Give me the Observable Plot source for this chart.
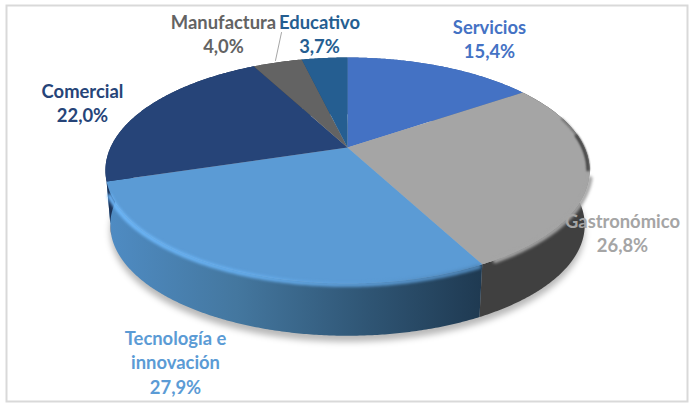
<!DOCTYPE html>
<html>
<head>
<meta charset="utf-8">
<script src="https://cdn.jsdelivr.net/npm/d3@7"></script>
<script src="https://cdn.jsdelivr.net/npm/@observablehq/plot@0.6"></script>
<style>
html,body{margin:0;padding:0;background:#fff}
svg{display:block}
</style>
</head>
<body>
<div id="chart"></div>
<script>
const categories = ["Servicios", "Gastronómico", "Tecnología e innovación", "Comercial", "Manufactura", "Educativo"];
const values = [15.4, 26.8, 27.9, 22.0, 4.0, 3.7];
const labelLines = ["Servicios", "Gastronómico", "Tecnología e\ninnovación", "Comercial", "Manufactura", "Educativo"];
const faceColors = ["#4472c4", "#a5a5a5", "#5b9bd5", "#264478", "#636363", "#255e91"];
const wallFills = ["#3a619f", "#404040", "url(#wallTec)", "#1c3358", "#444", "#1d4a72"];
const labelCentersPx = [[489, 38], [622, 232], [175, 361], [82, 102], [223, 33], [319, 33]];

// Pie geometry: the plot's x and y scales are in units of the pie radius.
const cx = 347, cy = 147, A = 237, B = 108.3, k = 0.2035;
const depth = 55 / B, bottomScale = 0.98;
const W = 692, H = 407;

function rim(t, s = 1, drop = 0) {
  const a = t * Math.PI / 180, u = Math.sin(a), v = -Math.cos(a), w = 1 - k * v;
  return {x: s * u / w, y: s * v / w + drop};
}
function arcPts(t0, t1, s = 1, drop = 0) {
  const n = Math.max(2, Math.ceil(Math.abs(t1 - t0) * 2)), out = [];
  for (let i = 0; i <= n; i++) out.push(rim(t0 + (t1 - t0) * i / n, s, drop));
  return out;
}
const total = d3.sum(values);
const cum = d3.cumsum(values);
const slices = categories.map((c, i) => ({
  c, t0: (i ? cum[i - 1] : 0) / total * 360, t1: cum[i] / total * 360,
  face: faceColors[i], wall: wallFills[i]
}));
const faces = slices.flatMap(d => [{x: 0, y: 0}, ...arcPts(d.t0, d.t1), {x: 0, y: 0}].map(p => ({...p, id: d.c, f: d.face})));
const walls = slices.flatMap(d => [...arcPts(d.t0, d.t1), ...arcPts(d.t1, d.t0, bottomScale, depth)].map(p => ({...p, id: d.c, f: d.wall})));
const shadow = arcPts(0, 360, bottomScale, depth + 6 / B);
const tec = slices[2], gas = slices[1];

const labels = categories.map((c, i) => ({
  text: labelLines[i] + "\n" + values[i].toFixed(1).replace(".", ",") + "%",
  x: (labelCentersPx[i][0] - cx) / A,
  y: (labelCentersPx[i][1] - cy) / B,
  fill: faceColors[i]
}));
const leader = [{x: (281 - cx) / A, y: (32 - cy) / B}, {x: (275 - cx) / A, y: (60 - cy) / B}];

function defs() {
  const d = d3.create("svg:defs");
  const grad = (id, stops) => {
    const g = d.append("linearGradient").attr("id", id).attr("gradientUnits", "userSpaceOnUse")
      .attr("x1", 105).attr("x2", 480).attr("y1", 0).attr("y2", 0);
    stops.forEach(([o, c]) => g.append("stop").attr("offset", o).attr("stop-color", c));
  };
  grad("wallTec", [[0, "#4f8cc4"], [0.35, "#44779f"], [0.7, "#2f5574"], [1, "#1f3a52"]]);
  grad("bevelTec", [[0, "#6fb9fb"], [0.35, "#66aeee"], [0.7, "#5b9bd5"], [1, "#4f86b8"]]);
  return d.node();
}

const chart = Plot.plot({
  width: W, height: H, margin: 0,
  x: {domain: [-cx / A, (W - cx) / A], range: [0, W], axis: null},
  y: {domain: [-cy / B, (H - cy) / B], range: [0, H], axis: null},
  color: {type: "identity"},
  style: {background: "#fff"},
  marks: [
    defs,
    Plot.frame({stroke: "#d9d9d9", strokeWidth: 2, insetLeft: 6, insetTop: 5, insetRight: 5, insetBottom: 6}),
    Plot.line(shadow, {x: "x", y: "y", fill: "#000", fillOpacity: 0.28, stroke: "none", imageFilter: "blur(3px)"}),
    Plot.line(walls, {x: "x", y: "y", z: "id", fill: "f", stroke: "none"}),
    Plot.line(faces, {x: "x", y: "y", z: "id", fill: "f", stroke: "none"}),
    Plot.line(arcPts(tec.t0 + 1, tec.t1 - 7, 1.008), {x: "x", y: "y", stroke: "url(#bevelTec)", strokeWidth: 4.5, imageFilter: "blur(1.8px)"}),
    Plot.line(arcPts(gas.t0 + 18, gas.t0 + 46, 0.996), {x: "x", y: "y", stroke: "#4a4a4a", strokeWidth: 1.2, imageFilter: "blur(1px)"}),
    Plot.line(arcPts(gas.t0 + 28, gas.t0 + 46, 0.993), {x: "x", y: "y", stroke: "#3a3a3a", strokeWidth: 2.5, imageFilter: "blur(1px)"}),
    Plot.line(arcPts(gas.t0 + 50, gas.t1 - 3, 1.005), {x: "x", y: "y", stroke: "#a5a5a5", strokeWidth: 4.5, imageFilter: "blur(1.8px)"}),
    Plot.line(leader, {x: "x", y: "y", stroke: "#a6a6a6", strokeWidth: 1}),
    Plot.text(labels, {x: "x", y: "y", text: "text", fill: "fill", fontFamily: "Lato", fontWeight: 700, fontSize: 18.4, lineHeight: 1.32, textAnchor: "middle", lineAnchor: "middle"})
  ]
});
document.getElementById("chart").append(chart);
</script>
</body>
</html>
